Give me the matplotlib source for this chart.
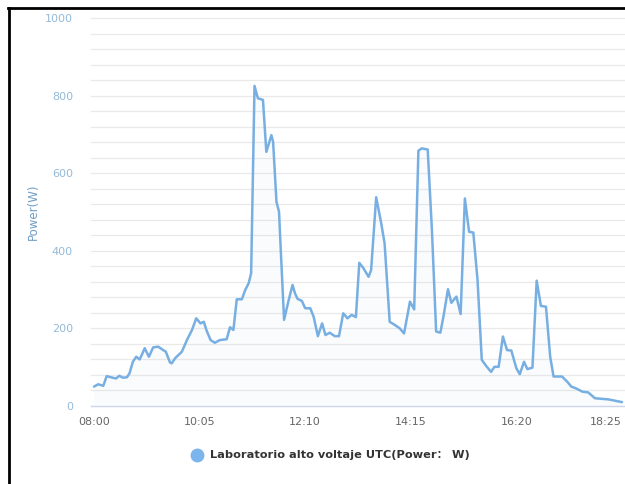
import matplotlib
matplotlib.use("Agg")
import matplotlib.pyplot as plt
from matplotlib.lines import Line2D

# minutes after 08:00
minutes = [0, 5, 11, 15, 22, 26, 30, 34, 39, 42, 46, 50, 54, 57, 60, 65, 70, 76, 82, 85,
           90, 92, 96, 104, 110, 116, 121, 126, 130, 133, 138, 143, 149, 157, 161, 165,
           169, 175, 179, 183, 186, 190, 194, 200, 204, 210, 212, 216, 219, 221, 225,
           230, 235, 238, 241, 246, 250, 256, 260, 265, 270, 274, 279, 285, 290, 295,
           300, 305, 310, 314, 319, 325, 328, 334, 340, 344, 350, 356, 362, 367, 374,
           379, 384, 388, 395, 400, 405, 410, 414, 419, 423, 429, 434, 439, 444, 449,
           454, 459, 465, 470, 474, 479, 484, 489, 494, 500, 504, 509, 513, 519, 524,
           529, 535, 540, 544, 554, 560, 565, 571, 578, 585, 593, 609, 625]
power = [50, 56, 52, 77, 73, 71, 78, 73, 74, 84, 114, 127, 120, 134, 149, 127, 151, 153, 144, 140,
         112, 110, 123, 140, 170, 196, 226, 213, 217, 196, 170, 163, 170, 172, 203, 196,
         275, 275, 299, 316, 342, 825, 793, 789, 655, 698, 681, 526, 501, 406, 222,
         269, 312, 290, 276, 271, 252, 252, 230, 180, 213, 183, 189, 180, 180, 239,
         226, 235, 229, 369, 355, 333, 350, 538, 471, 419, 217, 209, 200, 187, 269,
         249, 658, 664, 661, 454, 192, 189, 235, 301, 266, 282, 237, 535, 449, 447,
         325, 119, 101, 88, 101, 101, 179, 144, 143, 97, 82, 114, 95, 99, 323,
         258, 256, 127, 76, 76, 63, 50, 45, 37, 35, 20, 17, 10]
x_ticks = [0, 125, 250, 375, 500, 625]
x_labels = ["08:00", "10:05", "12:10", "14:15", "16:20", "18:25"]
y_ticks = [0, 200, 400, 600, 800, 1000]
series_name = "Laboratorio alto voltaje UTC(Power\uff1a W)"

W, H = 625, 484
fig = plt.figure(figsize=(W / 100, H / 100), dpi=100)
fig.patch.set_facecolor("white")

px_per_min = (622 - 94) / 625.0
ax_left_px, ax_right_px = 91, 624
ax = fig.add_axes([ax_left_px / W, (H - 406) / H, (ax_right_px - ax_left_px) / W, 388 / H])
ax.set_xlim(-(94 - ax_left_px) / px_per_min, 625 + (ax_right_px - 622) / px_per_min)
ax.set_ylim(0, 1000)

for s in ["top", "right", "left"]:
    ax.spines[s].set_visible(False)
ax.spines["bottom"].set_color("#ccd6eb")
ax.spines["bottom"].set_linewidth(1.0)

for g in range(40, 1001, 40):
    ax.axhline(g, color="#e9e9e9", lw=0.9, zorder=0, clip_on=False)

color = "#78afe2"
ax.fill_between(minutes, power, 0, color=color, alpha=0.04, lw=0, zorder=1)
ax.plot(minutes, power, color=color, lw=1.8, zorder=3, solid_joinstyle="round",
        solid_capstyle="round")

ax.set_xticks(x_ticks)
ax.set_xticklabels(x_labels)
ax.set_yticks(y_ticks)
ax.tick_params(axis="x", length=0, pad=8, labelsize=8, labelcolor="#666666")
ax.tick_params(axis="y", length=0, pad=13, labelsize=8, labelcolor="#94bad8")
ax.get_xticklabels()[-1].set_horizontalalignment("right")

fig.text(33 / W, 1 - 212 / H, "Power(W)", rotation=90, ha="center", va="center",
         fontsize=8.5, color="#6f9dc4")

# legend
fig.add_artist(Line2D([197 / W], [1 - 455 / H], marker="o", markersize=9,
                      color="#7cb5ec", markeredgecolor="#7cb5ec", transform=fig.transFigure))
fig.text(210 / W, 1 - 455 / H, series_name, ha="left", va="center", fontsize=8.2,
         fontweight="bold", color="#333333", family=["DejaVu Sans", "Noto Sans CJK SC"])

# black frame (top and left)
fig.add_artist(Line2D([8 / W, 1.0], [1 - 8 / H, 1 - 8 / H], color="black", lw=2,
                      transform=fig.transFigure))
fig.add_artist(Line2D([9 / W, 9 / W], [0, 1 - 8 / H], color="black", lw=2,
                      transform=fig.transFigure))

fig.savefig("out.png", dpi=100, facecolor="white")
